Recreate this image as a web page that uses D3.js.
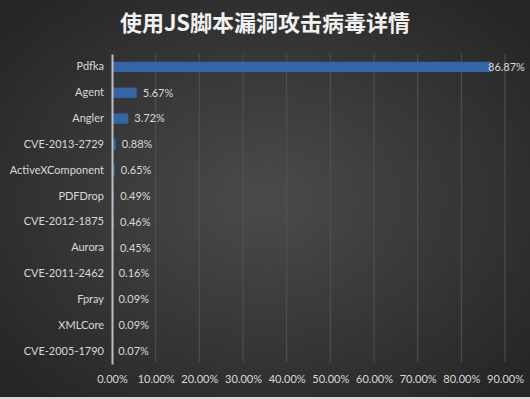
<!DOCTYPE html>
<html>
<head>
<meta charset="utf-8">
<script src="https://cdn.jsdelivr.net/npm/d3@7"></script>
<style>
  html, body { margin: 0; padding: 0; background: #2a2a2a; }
  svg { display: block; }
</style>
</head>
<body>
<div id="chart"></div>
<script>
var width = 530;
var height = 399;

var categories = ["Pdfka", "Agent", "Angler", "CVE-2013-2729", "ActiveXComponent", "PDFDrop",
    "CVE-2012-1875", "Aurora", "CVE-2011-2462", "Fpray", "XMLCore", "CVE-2005-1790"];
var shares = [86.87, 5.67, 3.72, 0.88, 0.65, 0.49, 0.46, 0.45, 0.16, 0.09, 0.09, 0.07];
var tickValues = [0, 10, 20, 30, 40, 50, 60, 70, 80, 90];

var title = "使用JS脚本漏洞攻击病毒详情";

var plotLeft = 112;
var plotRight = 505;
var plotTop = 54;
var plotBottom = 364;

var labelFont = "Lato, 'Open Sans', sans-serif";
var textColour = "#d9d9d9";
var barColour = "#3465a4";

var svg = d3.select("#chart").append("svg")
    .attr("width", width)
    .attr("height", height);

// background: dark radial gradient
var defs = svg.append("defs");
var grad = defs.append("radialGradient")
    .attr("id", "bg")
    .attr("cx", "50%").attr("cy", "50%").attr("r", "65%");
grad.append("stop").attr("offset", "0%").attr("stop-color", "#4b4b4b");
grad.append("stop").attr("offset", "100%").attr("stop-color", "#262626");

svg.append("rect")
    .attr("width", width)
    .attr("height", height)
    .attr("fill", "url(#bg)");

svg.append("rect")
    .attr("y", height - 2)
    .attr("width", width)
    .attr("height", 2)
    .attr("fill", "#d8d8d8");

var x = d3.scaleLinear()
    .domain([0, 90])
    .range([plotLeft, plotRight]);

var y = d3.scaleBand()
    .domain(categories)
    .range([plotTop, plotBottom])
    .paddingInner(0.6)
    .paddingOuter(0.3);

// gridlines
svg.append("g")
    .selectAll("line")
    .data(tickValues.slice(1))
    .enter()
    .append("line")
    .attr("x1", function (d) { return x(d); })
    .attr("x2", function (d) { return x(d); })
    .attr("y1", plotTop)
    .attr("y2", plotBottom - 2)
    .attr("stroke", "#525252")
    .attr("stroke-width", 1);

// bottom tick labels
var xAxis = d3.axisBottom(x)
    .tickValues(tickValues)
    .tickSize(0)
    .tickPadding(0)
    .tickFormat(function (d) { return d.toFixed(2) + "%"; });

var xAxisG = svg.append("g")
    .attr("transform", "translate(0," + (plotBottom + 11) + ")")
    .call(xAxis);
xAxisG.select(".domain").remove();
xAxisG.selectAll("text")
    .attr("fill", textColour)
    .attr("font-family", labelFont)
    .attr("font-size", "11px");

// bars
svg.append("g")
    .selectAll("rect")
    .data(shares)
    .enter()
    .append("rect")
    .attr("x", x(0))
    .attr("y", function (d, i) { return y(categories[i]); })
    .attr("width", function (d) { return x(d) - x(0); })
    .attr("height", y.bandwidth())
    .attr("fill", barColour);

// data labels
svg.append("g")
    .selectAll("text")
    .data(shares)
    .enter()
    .append("text")
    .attr("x", function (d) { return Math.min(x(d) + 6, 488); })
    .attr("y", function (d, i) { return y(categories[i]) + y.bandwidth() / 2; })
    .attr("dy", "0.35em")
    .attr("fill", textColour)
    .attr("font-family", labelFont)
    .attr("font-size", "11px")
    .text(function (d) { return d.toFixed(2) + "%"; });

// category axis
var yAxis = d3.axisLeft(y).tickSize(0).tickPadding(8);
var yAxisG = svg.append("g")
    .attr("transform", "translate(" + plotLeft + ",0)")
    .call(yAxis);
yAxisG.select(".domain")
    .attr("stroke", "#bfbfbf")
    .attr("stroke-width", 2);
yAxisG.selectAll("text")
    .attr("fill", textColour)
    .attr("font-family", labelFont)
    .attr("font-size", "11px");

// title
svg.append("text")
    .attr("x", width / 2)
    .attr("y", 31)
    .attr("text-anchor", "middle")
    .attr("fill", "#f2f2f2")
    .attr("font-family", "'Noto Sans CJK SC', sans-serif")
    .attr("font-weight", "bold")
    .attr("font-size", "22px")
    .text(title);
</script>
</body>
</html>
